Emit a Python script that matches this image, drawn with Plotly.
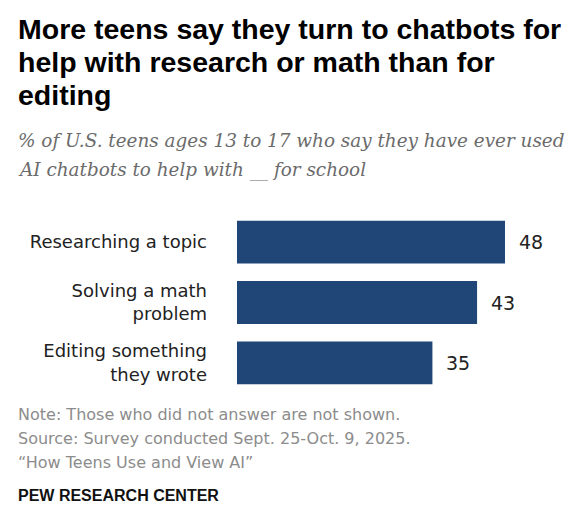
import plotly.graph_objects as go

categories = ["Researching a topic", "Solving a math<br>problem", "Editing something<br>they wrote"]
values = [48, 43, 35]
value_labels = ["48", "43", "35"]

title_lines = ["More teens say they turn to chatbots for",
               "help with research or math than for",
               "editing"]
subtitle_lines = ["% of U.S. teens ages 13 to 17 who say they have ever used",
                  "AI chatbots to help with __ for school"]
note_lines = ["Note: Those who did not answer are not shown.",
              "Source: Survey conducted Sept. 25-Oct. 9, 2025.",
              "\u201cHow Teens Use and View AI\u201d"]
brand = "PEW RESEARCH CENTER"

W, H = 581, 529
L, R, T, B = 237, 9, 212, 136
PW, PH = W - L - R, H - T - B

def px(x):
    return (x - L) / PW

def py(y):
    return (H - B - y) / PH

BAR = "#1f4677"
SANS = "DejaVu Sans"

fig = go.Figure()
fig.add_trace(go.Bar(
    x=values, y=categories, orientation="h",
    marker=dict(color=BAR, line=dict(width=0)),
    hoverinfo="skip",
))

ann = []
for c, v, t in zip(categories, values, value_labels):
    ann.append(dict(x=v, y=c, xref="x", yref="y", text=t, showarrow=False,
                    xanchor="left", yanchor="middle", xshift=12,
                    font=dict(family=SANS, size=19, color="#222222")))

for i, line in enumerate(title_lines):
    ann.append(dict(x=px(16), y=py(28.5 + 33 * i), xref="paper", yref="paper", text="<b>" + line + "</b>",
                    showarrow=False, xanchor="left", yanchor="middle", align="left",
                    font=dict(family="Liberation Sans", size=28.5, color="#000000")))
for i, line in enumerate(subtitle_lines):
    ann.append(dict(x=px(16), y=py(140.5 + 29 * i), xref="paper", yref="paper", text="<i>" + line + "</i>",
                    showarrow=False, xanchor="left", yanchor="middle", align="left",
                    font=dict(family="DejaVu Serif", size=18.4, color="#6b6b6b")))
for i, line in enumerate(note_lines):
    ann.append(dict(x=px(16), y=py(414 + 24 * i), xref="paper", yref="paper", text=line,
                    showarrow=False, xanchor="left", yanchor="middle", align="left",
                    font=dict(family=SANS, size=16, color="#8c8c8c")))
ann.append(dict(x=px(16), y=py(495), xref="paper", yref="paper", text="<b>" + brand + "</b>",
                showarrow=False, xanchor="left", yanchor="middle", align="left",
                font=dict(family="Liberation Sans", size=16, color="#111111")))

fig.update_layout(
    width=W, height=H,
    margin=dict(l=L, r=R, t=T, b=B, pad=0),
    paper_bgcolor="white", plot_bgcolor="white",
    bargap=0.29,
    showlegend=False,
    xaxis=dict(range=[0, 60], visible=False, fixedrange=True),
    yaxis=dict(autorange="reversed", showgrid=False, showline=False, zeroline=False,
               ticks="", ticklabelstandoff=29,
               tickfont=dict(family=SANS, size=18, color="#222222"), fixedrange=True),
    annotations=ann,
)

fig.write_html("out.html", config={"displayModeBar": False},
               post_script="document.body.style.margin='0';")
